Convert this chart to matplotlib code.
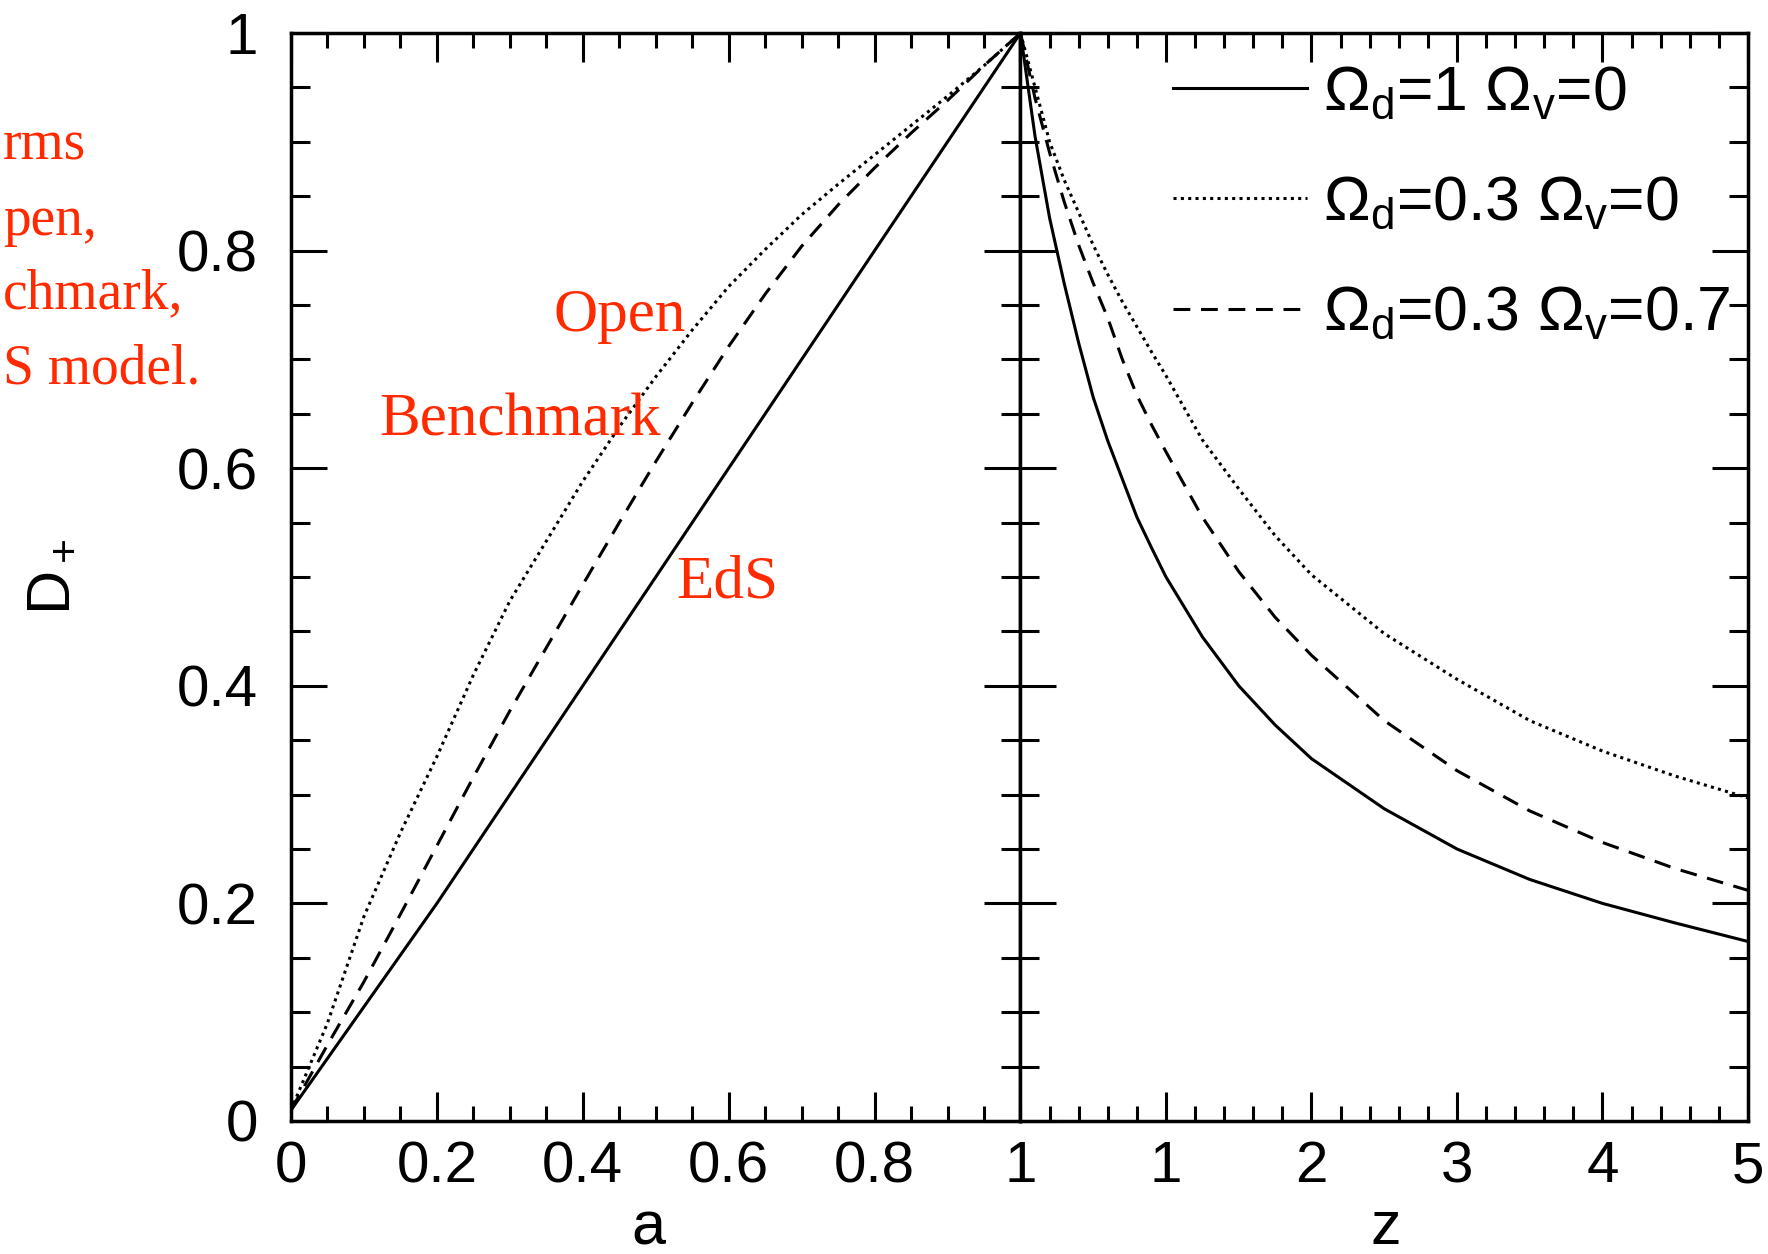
import matplotlib
matplotlib.use('Agg')
import matplotlib.pyplot as plt
from matplotlib.ticker import MultipleLocator

# DATOS
# panel izquierdo: D+ contra a
a_eds = [0.0, 0.2, 0.4, 0.6, 0.8, 1.0]
d_eds_a = [0.01, 0.2, 0.4, 0.6, 0.8, 1.0]

a_pts = [0.0, 0.05, 0.1, 0.15, 0.2, 0.25, 0.3, 0.35, 0.4, 0.45, 0.5,
         0.55, 0.6, 0.65, 0.7, 0.75, 0.8, 0.85, 0.9, 0.95, 1.0]
d_open_a = [0.01, 0.09, 0.188, 0.265, 0.335, 0.41, 0.478, 0.533, 0.588, 0.638, 0.684,
            0.727, 0.767, 0.801, 0.833, 0.861, 0.888, 0.915, 0.942, 0.97, 1.0]
d_bench_a = [0.01, 0.07, 0.128, 0.19, 0.253, 0.316, 0.377, 0.435, 0.493, 0.55, 0.606,
             0.66, 0.712, 0.76, 0.804, 0.842, 0.876, 0.908, 0.938, 0.97, 1.0]

# panel derecho: D+ contra z
z_pts = [0.0, 0.1, 0.2, 0.3, 0.4, 0.5, 0.6, 0.7, 0.8, 0.9, 1.0, 1.25, 1.5, 1.75,
         2.0, 2.5, 3.0, 3.5, 4.0, 4.5, 5.0]
d_eds_z = [1.0, 0.905, 0.83, 0.77, 0.715, 0.665, 0.625, 0.59, 0.555, 0.527, 0.5, 0.445,
           0.4, 0.364, 0.333, 0.287, 0.25, 0.222, 0.2, 0.182, 0.165]
d_open_z = [1.0, 0.95, 0.9, 0.865, 0.835, 0.805, 0.778, 0.753, 0.73, 0.707, 0.685, 0.626,
            0.581, 0.538, 0.502, 0.448, 0.406, 0.368, 0.34, 0.317, 0.297]
d_bench_z = [1.0, 0.94, 0.89, 0.845, 0.805, 0.77, 0.738, 0.70, 0.667, 0.64, 0.615, 0.555,
             0.505, 0.463, 0.428, 0.368, 0.322, 0.285, 0.256, 0.232, 0.212]

etiquetas = [r'$\Omega_{\rm d}$=1 $\Omega_{\rm v}$=0',
             r'$\Omega_{\rm d}$=0.3 $\Omega_{\rm v}$=0',
             r'$\Omega_{\rm d}$=0.3 $\Omega_{\rm v}$=0.7']

a_ticks = [0, 0.2, 0.4, 0.6, 0.8, 1]
a_labels = ['0', '0.2', '0.4', '0.6', '0.8', '1']
z_ticks = [1, 2, 3, 4, 5]
z_labels = ['1', '2', '3', '4', '5']
y_ticks = [0, 0.2, 0.4, 0.6, 0.8, 1]
y_labels = ['0', '0.2', '0.4', '0.6', '0.8', '1']

# trozos de texto rojo al borde izquierdo
frag_textos = ['rms', 'pen,', 'chmark,', 'S model.']

# ESTILO
plt.rcParams['font.family'] = ['Liberation Sans', 'DejaVu Sans']
plt.rcParams['mathtext.fontset'] = 'custom'
plt.rcParams['mathtext.rm'] = 'Liberation Sans'
plt.rcParams['mathtext.it'] = 'Liberation Sans:italic'
plt.rcParams['mathtext.bf'] = 'Liberation Sans:bold'

W, H = 1768, 1254
fig = plt.figure(figsize=(W / 100, H / 100), dpi=100)
ax1 = fig.add_axes([291 / W, 1 - 1121 / H, (1020.5 - 291) / W, 1088 / H])
ax2 = fig.add_axes([1020.5 / W, 1 - 1121 / H, (1748 - 1020.5) / W, 1088 / H])

lw = 2.2
sty_dot = (0, (1, 1.4))
sty_dash = (0, (5.5, 3.5))

ax1.plot(a_eds, d_eds_a, color='black', lw=lw, ls='-')
ax1.plot(a_pts, d_open_a, color='black', lw=lw, ls=sty_dot)
ax1.plot(a_pts, d_bench_a, color='black', lw=lw, ls=sty_dash)

l1, = ax2.plot(z_pts, d_eds_z, color='black', lw=lw, ls='-')
l2, = ax2.plot(z_pts, d_open_z, color='black', lw=lw, ls=sty_dot)
l3, = ax2.plot(z_pts, d_bench_z, color='black', lw=lw, ls=sty_dash)

for ax in (ax1, ax2):
    ax.set_ylim(0, 1)
    ax.set_yticks(y_ticks)
    ax.yaxis.set_minor_locator(MultipleLocator(0.05))
    for s in ax.spines.values():
        s.set_linewidth(2.5)
    ax.tick_params(which='both', direction='in', top=True, right=True,
                   left=True, bottom=True, width=2.2, labelsize=42)
    ax.tick_params(axis='y', which='major', length=26, pad=24)
    ax.tick_params(axis='y', which='minor', length=14)
    ax.tick_params(axis='x', which='major', length=21, pad=14)
    ax.tick_params(axis='x', which='minor', length=11)

ax1.set_xlim(0, 1)
ax1.set_xticks(a_ticks)
ax1.set_xticklabels(a_labels)
ax1.xaxis.set_minor_locator(MultipleLocator(0.05))
ax1.set_yticklabels(y_labels)

ax2.set_xlim(0, 5)
ax2.set_xticks(z_ticks)
ax2.set_xticklabels(z_labels)
ax2.xaxis.set_minor_locator(MultipleLocator(0.2))
ax2.tick_params(labelleft=False)

fig.text(648 / W, 1 - 1229 / H, 'a', fontsize=44, ha='center', va='center')
fig.text(1386 / W, 1 - 1229 / H, 'z', fontsize=44, ha='center', va='center')
fig.text(51 / W, 1 - 577 / H, r'D$_+$', fontsize=44, rotation=90,
         ha='center', va='center')

ax2.legend([l1, l2, l3], etiquetas, loc='upper left',
           bbox_to_anchor=(1173 / W, 1 - 64 / H), bbox_transform=fig.transFigure,
           frameon=False, fontsize=45, handlelength=2.15, handletextpad=0.25,
           labelspacing=0.82, borderpad=0, borderaxespad=0)

# textos en rojo
rojo = '#ff2a00'
serif = ['Liberation Serif', 'DejaVu Serif']
fig.text(553 / W, 1 - 331 / H, 'Open', color=rojo, family=serif, fontsize=44, va='baseline')
fig.text(379 / W, 1 - 436 / H, 'Benchmark', color=rojo, family=serif, fontsize=44, va='baseline')
fig.text(676 / W, 1 - 597 / H, 'EdS', color=rojo, family=serif, fontsize=44, va='baseline')

base_y = [160, 235, 308, 383]
for txt, yb in zip(frag_textos, base_y):
    fig.text(3 / W, 1 - yb / H, txt, color=rojo, family=serif, fontsize=40,
             ha='left', va='baseline')

fig.savefig('out.png', dpi=100)
